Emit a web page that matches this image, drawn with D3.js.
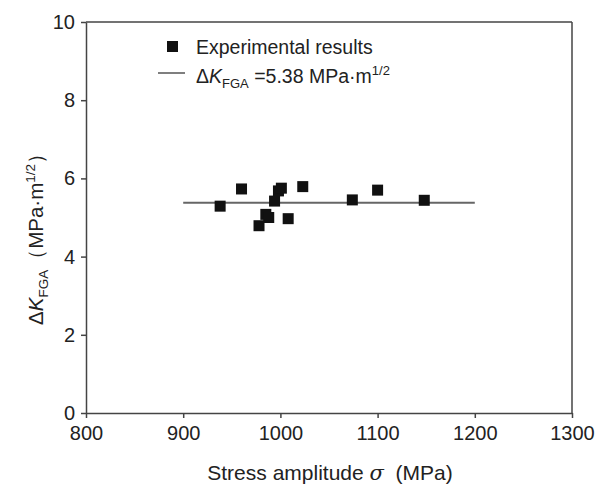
<!DOCTYPE html>
<html>
<head>
<meta charset="utf-8">
<script src="https://cdn.jsdelivr.net/npm/d3@7"></script>
<style>
  body { margin: 0; background: #fff; }
  svg text { font-family: "Liberation Sans", Arial, sans-serif; fill: #222; }
</style>
</head>
<body>
<div id="chart"></div>
<script>
// Data
const stressAmplitude = [938, 960, 978, 985, 988, 994, 998, 1001, 1008, 1023, 1074, 1100, 1148];
const deltaK = [5.29, 5.73, 4.79, 5.08, 5.0, 5.42, 5.68, 5.75, 4.97, 5.79, 5.45, 5.70, 5.44];
const fitValue = 5.38;
const fitRange = [900, 1200];
const xTicks = [800, 900, 1000, 1100, 1200, 1300];
const yTicks = [0, 2, 4, 6, 8, 10];

const width = 607, height = 485;
const margin = { top: 22, right: 35, bottom: 72, left: 86 };
const innerW = width - margin.left - margin.right;
const innerH = height - margin.top - margin.bottom;

const svg = d3.select('#chart').append('svg')
  .attr('width', width)
  .attr('height', height);

const g = svg.append('g')
  .attr('transform', `translate(${margin.left},${margin.top})`);

const x = d3.scaleLinear().domain([800, 1300]).range([0, innerW]);
const y = d3.scaleLinear().domain([0, 10]).range([innerH, 0]);

const axisColor = '#444';

// Frame (top and right)
g.append('line')
  .attr('x1', 0).attr('x2', innerW).attr('y1', 0).attr('y2', 0)
  .attr('stroke', axisColor).attr('stroke-width', 1.5);
g.append('line')
  .attr('x1', innerW).attr('x2', innerW).attr('y1', 0).attr('y2', innerH)
  .attr('stroke', axisColor).attr('stroke-width', 1.5);

// Axes
const xAxis = g.append('g')
  .attr('transform', `translate(0,${innerH})`)
  .call(d3.axisBottom(x).tickValues(xTicks).tickFormat(d3.format('d'))
    .tickSize(5).tickSizeOuter(0).tickPadding(8));
const yAxis = g.append('g')
  .call(d3.axisLeft(y).tickValues(yTicks).tickFormat(d3.format('d'))
    .tickSize(5).tickSizeOuter(0).tickPadding(6));

[xAxis, yAxis].forEach(ax => {
  ax.selectAll('path, line').attr('stroke', axisColor).attr('stroke-width', 1.5);
  ax.selectAll('text')
    .style('font-size', '20px')
    .style('font-family', '"Liberation Sans", Arial, sans-serif')
    .attr('fill', '#222');
});

// Fit line
g.append('line')
  .attr('x1', x(fitRange[0])).attr('x2', x(fitRange[1]))
  .attr('y1', y(fitValue)).attr('y2', y(fitValue))
  .attr('stroke', '#666').attr('stroke-width', 2);

// Points
const size = 11;
g.selectAll('.pt')
  .data(stressAmplitude.map((s, i) => ({ s, k: deltaK[i] })))
  .enter()
  .append('rect')
  .attr('class', 'pt')
  .attr('x', d => x(d.s) - size / 2)
  .attr('y', d => y(d.k) - size / 2)
  .attr('width', size)
  .attr('height', size)
  .attr('fill', '#111');

// Legend
const legend = svg.append('g');
legend.append('rect')
  .attr('x', 167).attr('y', 41).attr('width', 11).attr('height', 11)
  .attr('fill', '#111');
legend.append('text')
  .attr('x', 196).attr('y', 54)
  .style('font-size', '19.5px')
  .text('Experimental results');
legend.append('line')
  .attr('x1', 158).attr('x2', 185).attr('y1', 73).attr('y2', 73)
  .attr('stroke', '#555').attr('stroke-width', 1.5);
const lt = legend.append('text')
  .attr('x', 196).attr('y', 83)
  .style('font-size', '19.5px');
lt.append('tspan').text('Δ');
lt.append('tspan').style('font-style', 'italic').text('K');
lt.append('tspan').attr('dy', 5).style('font-size', '13px').text('FGA');
lt.append('tspan').attr('dy', -5).text(' =5.38 MPa·m');
lt.append('tspan').attr('dy', -8).style('font-size', '13px').text('1/2');

// X axis label
const xl = svg.append('text')
  .attr('x', 330).attr('y', 480)
  .attr('text-anchor', 'middle')
  .attr('xml:space', 'preserve')
  .style('font-size', '21px');
xl.append('tspan').text('Stress amplitude ');
xl.append('tspan').style('font-style', 'italic').style('font-family', '"DejaVu Serif", serif').text('σ');
xl.append('tspan').text('  (MPa)');

// Y axis label
const yl = svg.append('text')
  .attr('transform', 'translate(43,234) rotate(-90)')
  .attr('text-anchor', 'middle')
  .style('font-size', '20.5px');
yl.append('tspan').text('Δ');
yl.append('tspan').style('font-style', 'italic').text('K');
yl.append('tspan').attr('dy', 5).style('font-size', '13.5px').text('FGA');
yl.append('tspan').attr('dy', -5).text('（MPa·m');
yl.append('tspan').attr('dy', -8).style('font-size', '13.5px').text('1/2');
yl.append('tspan').attr('dy', 8).text('）');
</script>
</body>
</html>
